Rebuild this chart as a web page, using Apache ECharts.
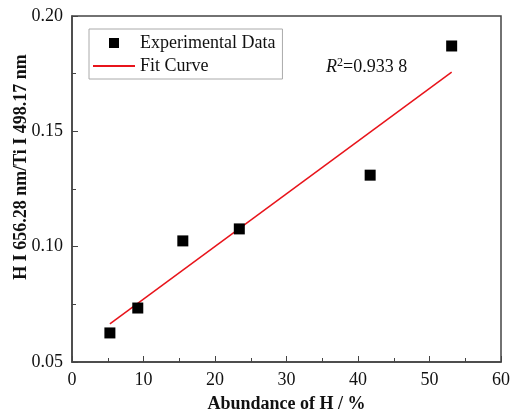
<!DOCTYPE html>
<html lang="en">
<head>
  <meta charset="UTF-8">
  <title>H abundance</title>
  <script src="https://cdn.jsdelivr.net/npm/echarts@6/dist/echarts.min.js"></script>
  <style>
    html, body { margin: 0; padding: 0; background: #fff; }
    #wrap { width: 511px; height: 413px; }
  </style>
</head>
<body>
<div id="wrap"></div>
<script>
  // values
  const abundance = [5.3, 9.2, 15.5, 23.4, 41.7, 53.1]
  const ratio = [0.0626, 0.0734, 0.1025, 0.1077, 0.131, 0.187]
  // fit line end points
  const fitX = [5.3, 53.1]
  const fitY = [0.0665, 0.1757]
  const yTicks = [0.05, 0.10, 0.15, 0.20]

  const font = "'Liberation Serif', 'Times New Roman', serif"
  const chart = echarts.init(document.querySelector("#wrap"))

  // square in the middle of a 42x10 legend box (M points widen the bounds)
  const squareIcon = 'path://M0,5M42,5M16,0h10v10h-10z'

  const ops = {
    animation: false,
    textStyle: { fontFamily: font },
    grid: {
      left: 72, top: 16, right: 10, bottom: 51,
      outerBoundsMode: 'none',
      show: true, borderColor: '#444', borderWidth: 1.5
    },
    legend: {
      left: 89, top: 29,
      orient: 'vertical',
      borderColor: '#aaa', borderWidth: 1,
      padding: [5, 7, 4, 3],
      itemWidth: 42, itemHeight: 10, itemGap: 5,
      textStyle: { fontFamily: font, fontSize: 18, color: '#111' },
      data: [
        { name: 'Experimental Data', icon: squareIcon },
        { name: 'Fit Curve', itemStyle: { opacity: 0 } }
      ]
    },
    xAxis: {
      type: 'value', min: 0, max: 60, interval: 10,
      name: 'Abundance of H / %', nameLocation: 'middle', nameGap: 33,
      nameTextStyle: { fontFamily: font, fontSize: 18, fontWeight: 'bold', color: '#111' },
      axisLine: { lineStyle: { color: '#444', width: 1.5 } },
      axisTick: { inside: true, length: 6, lineStyle: { color: '#444' } },
      minorTick: { show: true, splitNumber: 2, length: 4, lineStyle: { color: '#444' } },
      splitLine: { show: false },
      axisLabel: { fontFamily: font, fontSize: 18, color: '#111', margin: 9 }
    },
    yAxis: {
      type: 'value', min: 0.05, max: 0.20, interval: 0.05,
      name: 'H I 656.28 nm/Ti I 498.17 nm', nameLocation: 'middle', nameGap: 42,
      nameMoveOverlap: false,
      nameTextStyle: {
        fontFamily: font, fontSize: 18, fontWeight: 'bold', color: '#111',
        padding: [0, 0, 0, 44]
      },
      axisLine: { lineStyle: { color: '#444', width: 1.5 } },
      axisTick: { inside: true, length: 6, lineStyle: { color: '#444' } },
      minorTick: { show: true, splitNumber: 2, length: 4, lineStyle: { color: '#444' } },
      splitLine: { show: false },
      axisLabel: {
        fontFamily: font, fontSize: 18, color: '#111', margin: 9,
        formatter: v => yTicks.find(t => Math.abs(t - v) < 1e-9).toFixed(2)
      }
    },
    series: [
      {
        name: 'Experimental Data',
        type: 'scatter',
        symbol: 'rect', symbolSize: 11,
        itemStyle: { color: '#000', opacity: 1 },
        data: abundance.map((x, i) => [x, ratio[i]]),
        z: 3
      },
      {
        name: 'Fit Curve',
        type: 'line',
        symbol: 'none',
        lineStyle: { color: '#e8141b', width: 1.5 },
        itemStyle: { color: '#e8141b' },
        data: fitX.map((x, i) => [x, fitY[i]]),
        z: 2
      }
    ],
    graphic: [
      {
        type: 'text', left: 326, top: 57,
        style: {
          text: '{i|R}{s|2}{n|=0.933 8}',
          rich: {
            i: { fontFamily: font, fontSize: 18, fontStyle: 'italic', fill: '#111' },
            s: { fontFamily: font, fontSize: 12, fill: '#111', verticalAlign: 'top', padding: [0, 0, 8, 0] },
            n: { fontFamily: font, fontSize: 18, fill: '#111' }
          }
        }
      }
    ]
  }

  chart.setOption(ops)
</script>
</body>
</html>
